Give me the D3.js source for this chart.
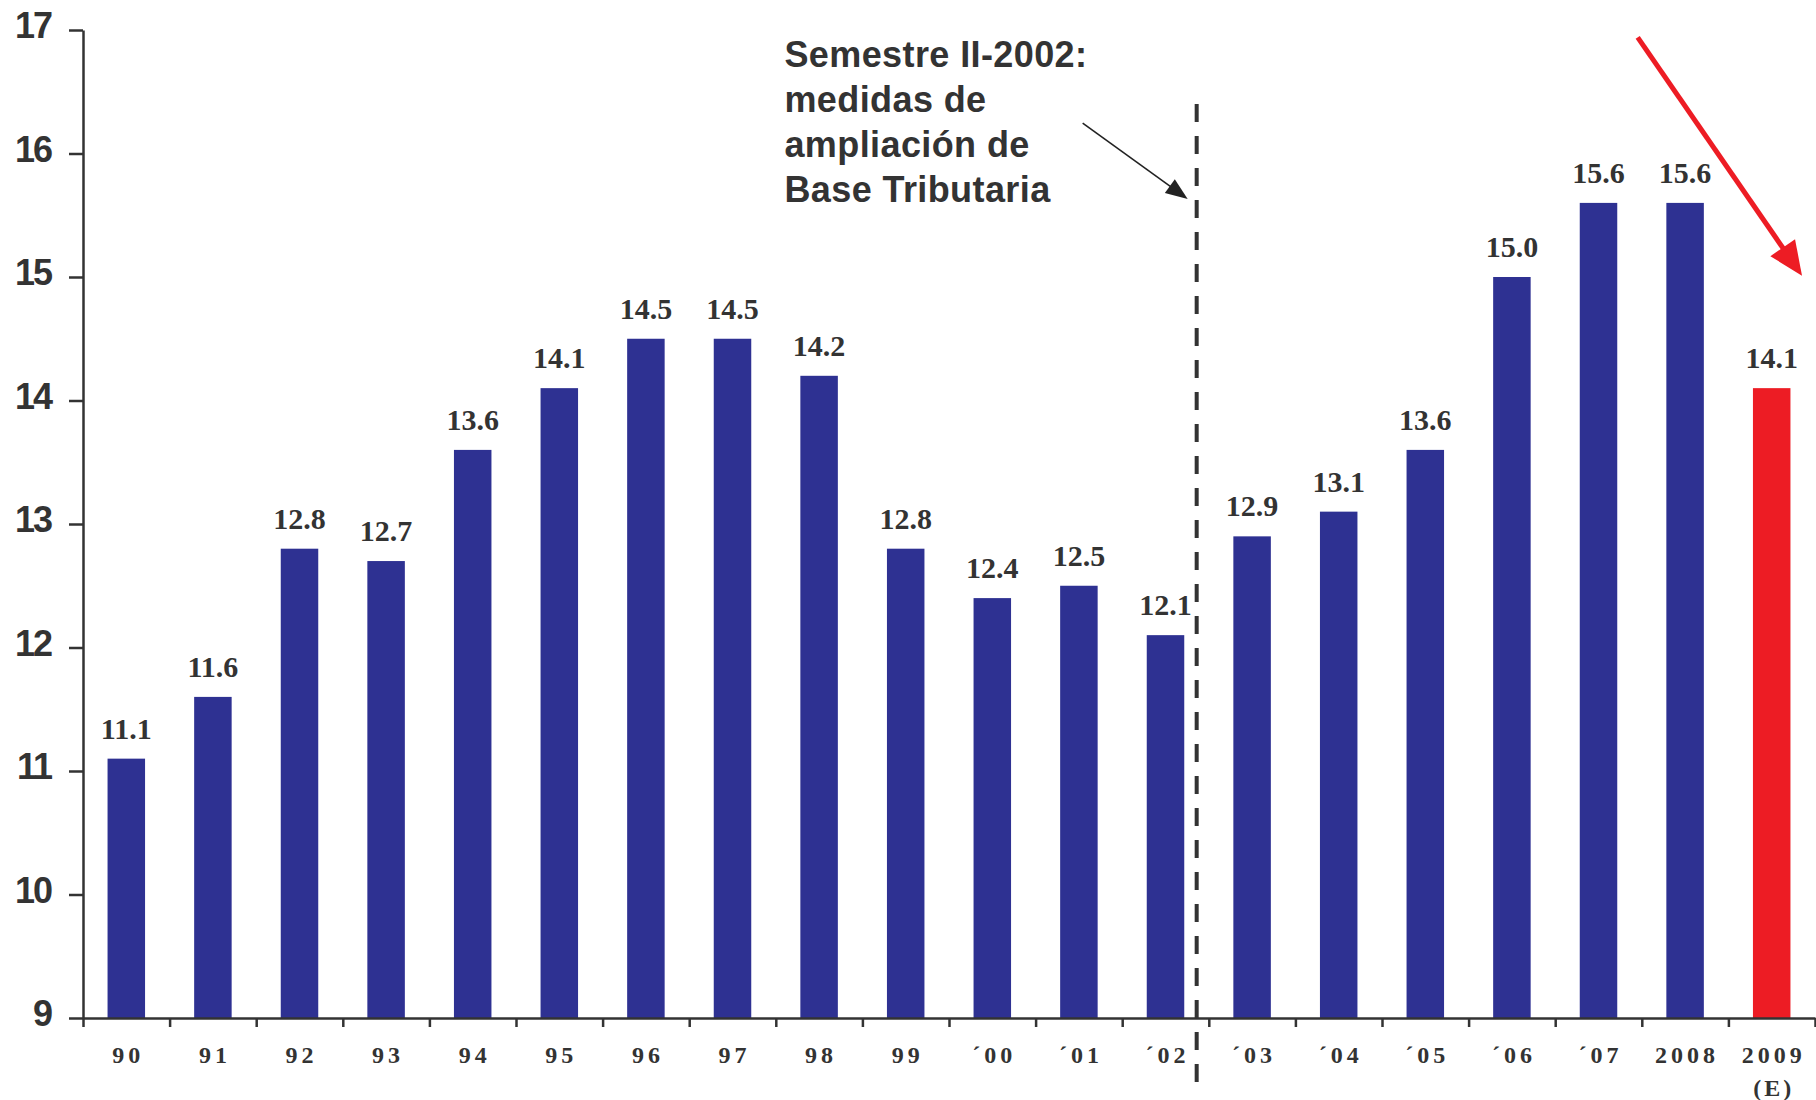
<!DOCTYPE html>
<html>
<head>
<meta charset="utf-8">
<script src="https://cdn.jsdelivr.net/npm/d3@7"></script>
<style>
  html, body { margin: 0; padding: 0; background: #fff; }
  svg { display: block; }
</style>
</head>
<body>
<div id="chart"></div>
<script>
// data
const categories = ["90", "91", "92", "93", "94", "95", "96", "97", "98", "99",
    "\u00b400", "\u00b401", "\u00b402", "\u00b403", "\u00b404", "\u00b405", "\u00b406", "\u00b407", "2008", "2009"];
const values = [11.1, 11.6, 12.8, 12.7, 13.6, 14.1, 14.5, 14.5, 14.2, 12.8,
    12.4, 12.5, 12.1, 12.9, 13.1, 13.6, 15.0, 15.6, 15.6, 14.1];
const estimated = ["2009"];
const yTicks = [9, 10, 11, 12, 13, 14, 15, 16, 17];
const noteLines = ["Semestre II-2002:", "medidas de", "ampliación de", "Base Tributaria"];

const width = 1816, height = 1100;
const margin = { top: 30, right: 1, bottom: 82, left: 83 };
const ink = "#333333", blue = "#2e3192", red = "#ed1c24";
const serif = "'Liberation Serif', 'Times New Roman', serif";
const sans = "'Liberation Sans', Arial, Helvetica, sans-serif";

const data = categories.map((c, i) => ({ category: c, value: values[i] }));

const svg = d3.select("#chart")
    .append("svg")
    .attr("width", width)
    .attr("height", height);

const x = d3.scaleBand()
    .domain(categories)
    .range([margin.left, width - margin.right])
    .paddingInner(0.567)
    .paddingOuter(0.2835);
const step = x.step();

// band edges, for the tick marks between years
const xEdge = d3.scaleLinear()
    .domain([0, categories.length])
    .range([margin.left, width - margin.right]);

const y = d3.scaleLinear()
    .domain([9, 17])
    .range([height - margin.bottom, margin.top]);

// bars
svg.selectAll(".bar")
    .data(data)
    .enter()
    .append("rect")
    .attr("class", "bar")
    .attr("x", d => x(d.category))
    .attr("width", x.bandwidth())
    .attr("y", d => y(d.value))
    .attr("height", d => y(9) - y(d.value))
    .attr("fill", d => estimated.includes(d.category) ? red : blue);

// value labels
svg.selectAll(".val")
    .data(data)
    .enter()
    .append("text")
    .attr("class", "val")
    .attr("x", d => x(d.category) + x.bandwidth() / 2)
    .attr("y", d => y(d.value) - 20)
    .attr("text-anchor", "middle")
    .attr("font-family", serif)
    .attr("font-weight", "bold")
    .attr("font-size", "30px")
    .attr("fill", ink)
    .text(d => d.value.toFixed(1));

// y axis
const yAxis = svg.append("g")
    .attr("transform", "translate(" + margin.left + ",0)")
    .call(d3.axisLeft(y).tickValues(yTicks).tickSize(14).tickPadding(18).tickSizeOuter(0));
yAxis.selectAll("text")
    .attr("dy", "0.22em")
    .attr("font-family", sans)
    .attr("font-weight", "bold")
    .attr("font-size", "36px")
    .attr("letter-spacing", "-2px")
    .attr("fill", ink);

// x axis: ticks on the band edges, labels under the bands
svg.append("g")
    .attr("transform", "translate(0," + y(9) + ")")
    .call(d3.axisBottom(xEdge).tickValues(d3.range(categories.length + 1)).tickSize(9).tickSizeOuter(0).tickFormat(""));

svg.selectAll(".xlab")
    .data(data)
    .enter()
    .append("text")
    .attr("class", "xlab")
    .attr("x", d => x(d.category) + x.bandwidth() / 2 + 2)
    .attr("y", y(9) + 45)
    .attr("text-anchor", "middle")
    .attr("font-family", serif)
    .attr("font-weight", "bold")
    .attr("font-size", "24px")
    .attr("letter-spacing", "4px")
    .attr("fill", ink)
    .text(d => d.category);

svg.selectAll(".sublab")
    .data(data.filter(d => estimated.includes(d.category)))
    .enter()
    .append("text")
    .attr("class", "sublab")
    .attr("x", d => x(d.category) + x.bandwidth() / 2 + 2)
    .attr("y", y(9) + 78)
    .attr("text-anchor", "middle")
    .attr("font-family", serif)
    .attr("font-weight", "bold")
    .attr("font-size", "24px")
    .attr("letter-spacing", "3px")
    .attr("fill", ink)
    .text("(E)");

svg.selectAll(".domain, .tick line")
    .attr("stroke", ink)
    .attr("stroke-width", 2.5);

// dashed divider between '02 and '03
const dashX = xEdge(13) - step * 0.14;
svg.append("line")
    .attr("x1", dashX).attr("x2", dashX)
    .attr("y1", y(16.4)).attr("y2", y(9) + 70)
    .attr("stroke", ink)
    .attr("stroke-width", 4)
    .attr("stroke-dasharray", "18,14");

// note
const note = svg.append("text")
    .attr("font-family", sans)
    .attr("font-weight", "bold")
    .attr("font-size", "36px")
    .attr("letter-spacing", "0.4px")
    .attr("fill", ink);
note.selectAll("tspan")
    .data(noteLines)
    .enter()
    .append("tspan")
    .attr("x", xEdge(8.1))
    .attr("y", (d, i) => y(16.7) + i * 45)
    .text(d => d);

function arrow(x1, y1, x2, y2, headLen, headW, sw, colour) {
    const ang = Math.atan2(y2 - y1, x2 - x1);
    const bx = x2 - headLen * Math.cos(ang), by = y2 - headLen * Math.sin(ang);
    const px = Math.sin(ang) * headW / 2, py = -Math.cos(ang) * headW / 2;
    svg.append("line")
        .attr("x1", x1).attr("y1", y1)
        .attr("x2", bx + headLen * 0.2 * Math.cos(ang)).attr("y2", by + headLen * 0.2 * Math.sin(ang))
        .attr("stroke", colour)
        .attr("stroke-width", sw);
    svg.append("path")
        .attr("d", "M" + x2 + "," + y2 + "L" + (bx + px) + "," + (by + py) + "L" + (bx - px) + "," + (by - py) + "Z")
        .attr("fill", colour);
}

arrow(dashX - 114, y(16.4) + 19, dashX - 9, y(15.6) - 4, 22, 17, 1.6, "#222");
arrow(x("2009") + x.bandwidth() / 2 - 134, y(16.94), xEdge(20) - 13, y(15.1) + 11, 34, 30, 5, red);
</script>
</body>
</html>
